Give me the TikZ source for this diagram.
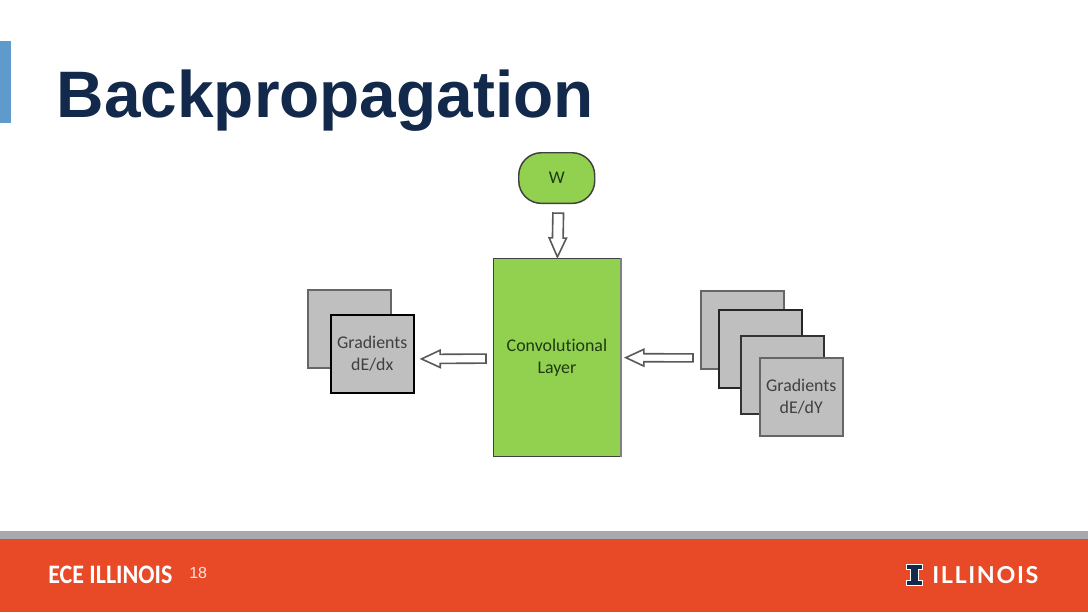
\documentclass[tikz,border=0pt]{standalone}
\usepackage{fontspec}
\setmainfont{Liberation Sans}
\newfontfamily\carl[Ligatures=NoCommon]{Carlito}
\newfontfamily\carlc[FakeStretch=0.9]{Carlito}
\newfontfamily\latofont[LetterSpace=7]{Lato}
\usetikzlibrary{calc}
\definecolor{illorange}{HTML}{E84A27}
\definecolor{illgray}{HTML}{A7A9AC}
\definecolor{illnavy}{HTML}{13294B}
\definecolor{illblue}{HTML}{5E9BCC}
\definecolor{boxgreen}{HTML}{92D050}
\definecolor{boxgray}{HTML}{BFBFBF}
\definecolor{greentext}{HTML}{1E3A12}
\tikzset{
  x=0.75pt,y=-0.75pt,
  graybox/.style={draw=#1,fill=boxgray,line width=1.4pt,minimum width=62pt,minimum height=58.5pt,inner sep=0pt,anchor=north west,align=center,text=black!75,font=\carl\fontsize{13.4}{16.5}\selectfont},
  graybox/.default=black!60,
  greenbox/.style={draw=black!75,fill=boxgreen,inner sep=0pt,anchor=north west,align=center,text=greentext,font=\carl\fontsize{13.4}{16.5}\selectfont},
  blockarrow/.style={draw=black!65,fill=white,line width=1.2pt,line join=miter}
}
% #1 from, #2 to, #3 shaft half-width, #4 head half-width, #5 head length
\newcommand{\blockarrow}[5]{%
  \draw[blockarrow] ($(#1)!#3!90:(#2)$) --
    ($($(#2)!#5!(#1)$)!#3!90:(#2)$) --
    ($($(#2)!#5!(#1)$)!#4!90:(#2)$) --
    (#2) --
    ($($(#2)!#5!(#1)$)!#4!-90:(#2)$) --
    ($($(#2)!#5!(#1)$)!#3!-90:(#2)$) --
    ($(#1)!#3!-90:(#2)$) -- cycle;}
\begin{document}
\begin{tikzpicture}
\useasboundingbox (0,0) rectangle (1088,612);
% slide furniture
\fill[white] (0,0) rectangle (1088,612);
\fill[illblue] (0,41) rectangle (11,123);
\node[anchor=base west,inner sep=0pt,text=illnavy,font=\bfseries\fontsize{49.3}{49.3}\selectfont] (title) at (56.5,117) {Backpropagation};
\fill[illgray] (0,531) rectangle (1088,539);
\fill[illorange] (0,539) rectangle (1088,612);
\node[anchor=base west,inner sep=0pt,text=white,font=\carlc\bfseries\fontsize{20}{20}\selectfont] (ece) at (48,583) {ECE ILLINOIS};
\node[anchor=base west,inner sep=0pt,text=white!85!illorange,font=\fontsize{12}{12}\selectfont] (num) at (189,578) {18};
\node[anchor=base west,inner sep=0pt,text=white,font=\latofont\bfseries\fontsize{17.5}{17.5}\selectfont] (ill) at (932,583) {ILLINOIS};
% block I
\draw[fill=illnavy,draw=white,line width=0.7pt]
  (906,564) -- (922,564) -- (922,569) -- (918,569) -- (918,580) -- (922,580) -- (922,585)
  -- (906,585) -- (906,580) -- (910,580) -- (910,569) -- (906,569) -- cycle;
% diagram
\node[greenbox,line width=1.1pt,rounded corners=17pt,minimum width=57pt,minimum height=38pt] (w) at (518,152) {W};
\node[greenbox,line width=0.9pt,minimum width=95pt,minimum height=148.5pt] (conv) at (493,258) {Convolutional\\Layer};
\draw[draw=black!50,line width=1.8pt] (conv.north east) -- (conv.south east);
\node[graybox] (l1) at (307,289) {};
\node[graybox=black] (l2) at (330,314) {Gradients\\dE/dx};
\node[graybox] (r1) at (700,290) {};
\node[graybox=black!85] (r2) at (718,309) {};
\node[graybox=black!80] (r3) at (740,335) {};
\node[graybox] (r4) at (759,357) {Gradients\\dE/dY};
\coordinate (da) at ($(w.south)+(1.5,9)$);
\coordinate (db) at ($(conv.north)+(0.5,-1)$);
\coordinate (la) at ($(conv.west)+(-7,1)$);
\coordinate (lb) at ($(l2.east)+(7,5)$);
\coordinate (ra) at ($(r1.west)+(-7,28)$);
\coordinate (rb) at ($(conv.east)+(5,0)$);
\blockarrow{da}{db}{4pt}{6.5pt}{14.3pt}
\blockarrow{la}{lb}{3.4pt}{6.5pt}{14pt}
\blockarrow{ra}{rb}{3pt}{6.3pt}{13.5pt}
\end{tikzpicture}
\end{document}
